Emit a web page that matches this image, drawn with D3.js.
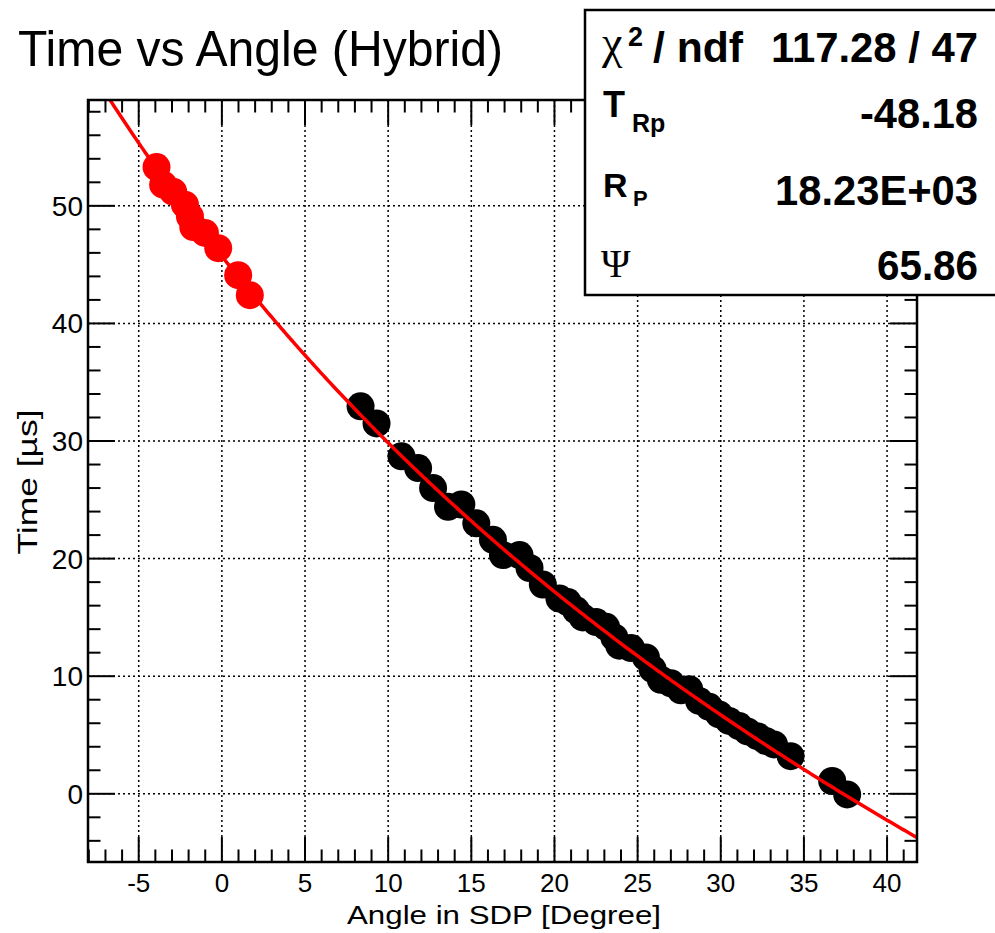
<!DOCTYPE html>
<html lang="en">
<head>
  <meta charset="UTF-8">
  <title>Time vs Angle (Hybrid)</title>
  <script src="https://d3js.org/d3.v7.min.js"></script>
  <style>
    html, body { margin: 0; padding: 0; background: #fff; }
    svg { display: block; }
    text { font-family: "Liberation Sans", Arial, Helvetica, sans-serif; fill: #000; }
    .grid line { stroke: #000; stroke-width: 1.5; stroke-dasharray: 2,3; }
    .tick-mark { stroke: #000; stroke-width: 2; }
  </style>
</head>
<body>
  <svg id="chart" width="995" height="933"></svg>
  <script>
    // Red points (first group)
    const redAngle = [-3.93, -3.53, -2.93, -2.22, -1.92, -1.72, -1.02, -0.22, 0.98, 1.68];
    const redTime  = [53.3, 51.8, 51.2, 50.1, 49.1, 48.2, 47.7, 46.4, 44.1, 42.4];

    // Black points (second group)
    const blackAngle = [8.34, 9.30, 10.8, 11.8, 12.7, 13.6, 14.4, 15.3, 16.3, 16.9,
                        17.9, 18.5, 19.3, 20.3, 20.8, 21.3, 21.7, 22.5, 23.1, 23.6,
                        23.9, 24.6, 25.5, 25.9, 26.4, 27.0, 27.6, 28.1, 28.7, 29.3,
                        29.9, 30.5, 31.1, 31.6, 32.2, 32.7, 33.2, 34.2, 36.7, 37.6];
    const blackTime  = [32.95, 31.5, 28.7, 27.7, 26.0, 24.4, 24.6, 23.0, 21.6, 20.3,
                        20.3, 19.2, 17.8, 16.6, 16.3, 15.6, 15.0, 14.6, 14.2, 13.3,
                        12.6, 12.4, 11.6, 10.6, 9.7, 9.4, 8.8, 8.9, 7.9, 7.4,
                        6.75, 6.2, 5.76, 5.3, 4.9, 4.5, 4.2, 3.2, 1.09, -0.05];

    // Fit result shown in the stats box
    const statValues = ["117.28 / 47", "-48.18", "18.23E+03", "65.86"];
    const fitTRp = -48.18;     // microseconds
    const fitRp = 18.23e3;     // metres
    const fitPsi = 65.86;      // degrees
    const lightSpeed = 299.792458; // m per microsecond

    const xTicks = [-5, 0, 5, 10, 15, 20, 25, 30, 35, 40];
    const yTicks = [0, 10, 20, 30, 40, 50];

    const svg = d3.select("#chart");
    const frame = { left: 88, right: 917, top: 100, bottom: 862 };

    const x = d3.scaleLinear().domain([-8.05, 41.8]).range([frame.left, frame.right]);
    const y = d3.scaleLinear().domain([-5.8, 59]).range([frame.bottom, frame.top]);

    svg.append("defs").append("clipPath").attr("id", "frame-clip")
      .append("rect").attr("x", frame.left).attr("y", frame.top)
      .attr("width", frame.right - frame.left).attr("height", frame.bottom - frame.top);

    // Grid
    const grid = svg.append("g").attr("class", "grid");
    grid.selectAll(".gx").data(xTicks).enter().append("line")
      .attr("x1", d => x(d)).attr("x2", d => x(d))
      .attr("y1", frame.top).attr("y2", frame.bottom);
    grid.selectAll(".gy").data(yTicks).enter().append("line")
      .attr("y1", d => y(d)).attr("y2", d => y(d))
      .attr("x1", frame.left).attr("x2", frame.right);

    // Tick marks on all four sides (inward)
    const xMinor = d3.range(-8, 42, 1);
    const yMinor = d3.range(-4, 60, 2);
    const ticks = svg.append("g");
    xMinor.forEach(v => {
      const len = (v % 5 === 0) ? 25 : 12.5;
      ticks.append("line").attr("class", "tick-mark")
        .attr("x1", x(v)).attr("x2", x(v)).attr("y1", frame.bottom).attr("y2", frame.bottom - len);
      ticks.append("line").attr("class", "tick-mark")
        .attr("x1", x(v)).attr("x2", x(v)).attr("y1", frame.top).attr("y2", frame.top + len);
    });
    yMinor.forEach(v => {
      const len = (v % 10 === 0) ? 27 : 12.5;
      ticks.append("line").attr("class", "tick-mark")
        .attr("y1", y(v)).attr("y2", y(v)).attr("x1", frame.left).attr("x2", frame.left + len);
      ticks.append("line").attr("class", "tick-mark")
        .attr("y1", y(v)).attr("y2", y(v)).attr("x1", frame.right).attr("x2", frame.right - len);
    });

    // Points
    const plot = svg.append("g").attr("clip-path", "url(#frame-clip)");
    const red = redAngle.map((a, i) => ({ a, t: redTime[i] }));
    const black = blackAngle.map((a, i) => ({ a, t: blackTime[i] }));
    plot.selectAll(".red").data(red).enter().append("circle")
      .attr("cx", d => x(d.a)).attr("cy", d => y(d.t)).attr("r", 14).attr("fill", "#ff0000");
    plot.selectAll(".black").data(black).enter().append("circle")
      .attr("cx", d => x(d.a)).attr("cy", d => y(d.t)).attr("r", 14).attr("fill", "#000");

    // Fit curve: t = TRp + Rp/c * tan((180 - Psi - chi) / 2)
    const fitFn = chi => fitTRp + fitRp / lightSpeed *
      Math.tan((180 - fitPsi - chi) / 2 * Math.PI / 180);
    const curveX = d3.range(-9, 42.01, 0.1);
    plot.append("path")
      .datum(curveX)
      .attr("fill", "none").attr("stroke", "#ff0000").attr("stroke-width", 3.5)
      .attr("d", d3.line().x(d => x(d)).y(d => y(fitFn(d))));

    // Frame
    svg.append("rect").attr("x", frame.left).attr("y", frame.top)
      .attr("width", frame.right - frame.left).attr("height", frame.bottom - frame.top)
      .attr("fill", "none").attr("stroke", "#000").attr("stroke-width", 2.5);

    // Tick labels
    svg.selectAll(".xl").data(xTicks).enter().append("text")
      .attr("x", d => x(d)).attr("y", 892).attr("text-anchor", "middle")
      .attr("font-size", 26).text(d => d);
    svg.selectAll(".yl").data(yTicks).enter().append("text")
      .attr("x", 83).attr("y", d => y(d) + 10).attr("text-anchor", "end")
      .attr("font-size", 28).text(d => d);

    // Axis titles
    svg.append("text").attr("x", 504).attr("y", 924).attr("text-anchor", "middle")
      .attr("font-size", 26).attr("textLength", 314).attr("lengthAdjust", "spacingAndGlyphs")
      .text("Angle in SDP [Degree]");
    svg.append("text").attr("transform", "translate(37,482) rotate(-90)")
      .attr("text-anchor", "middle").attr("font-size", 27)
      .attr("textLength", 145).attr("lengthAdjust", "spacingAndGlyphs")
      .text("Time [\u00b5s]");

    // Title
    svg.append("text").attr("x", 18).attr("y", 66).attr("font-size", 50)
      .attr("textLength", 485).attr("lengthAdjust", "spacingAndGlyphs")
      .text("Time vs Angle (Hybrid)");

    // Stats box
    const box = svg.append("g");
    box.append("rect").attr("x", 585).attr("y", 10).attr("width", 420).attr("height", 285)
      .attr("fill", "#fff").attr("stroke", "#000").attr("stroke-width", 2.5);

    const valueY = [62, 128, 205, 280];
    const valueW = [207, 118, 203, 101];
    box.selectAll(".sv").data(statValues).enter().append("text")
      .attr("x", 978).attr("y", (d, i) => valueY[i]).attr("text-anchor", "end")
      .attr("font-size", 42).attr("font-weight", "bold")
      .attr("textLength", (d, i) => valueW[i]).attr("lengthAdjust", "spacingAndGlyphs")
      .text(d => d);

    // Row 1: chi^2 / ndf
    const serif = '"Liberation Serif", "DejaVu Serif", serif';
    box.append("text").attr("x", 602).attr("y", 58).attr("font-size", 46)
      .style("font-family", serif).text("\u03c7");
    box.append("text").attr("x", 628).attr("y", 46).attr("font-size", 27)
      .attr("font-weight", "bold").text("2");
    box.append("text").attr("x", 653).attr("y", 62).attr("font-size", 42)
      .attr("font-weight", "bold").attr("textLength", 90).attr("lengthAdjust", "spacingAndGlyphs")
      .text("/ ndf");
    // Row 2: T_Rp
    box.append("text").attr("x", 603).attr("y", 117).attr("font-size", 36)
      .attr("font-weight", "bold").text("T");
    box.append("text").attr("x", 632).attr("y", 132).attr("font-size", 25)
      .attr("font-weight", "bold").text("Rp");
    // Row 3: R_P
    box.append("text").attr("x", 603).attr("y", 197).attr("font-size", 34)
      .attr("font-weight", "bold").text("R");
    box.append("text").attr("x", 633).attr("y", 206).attr("font-size", 22)
      .attr("font-weight", "bold").text("P");
    // Row 4: Psi
    box.append("text").attr("x", 601).attr("y", 277).attr("font-size", 40)
      .style("font-family", serif).attr("fill", "#222").text("\u03a8");
  </script>
</body>
</html>
